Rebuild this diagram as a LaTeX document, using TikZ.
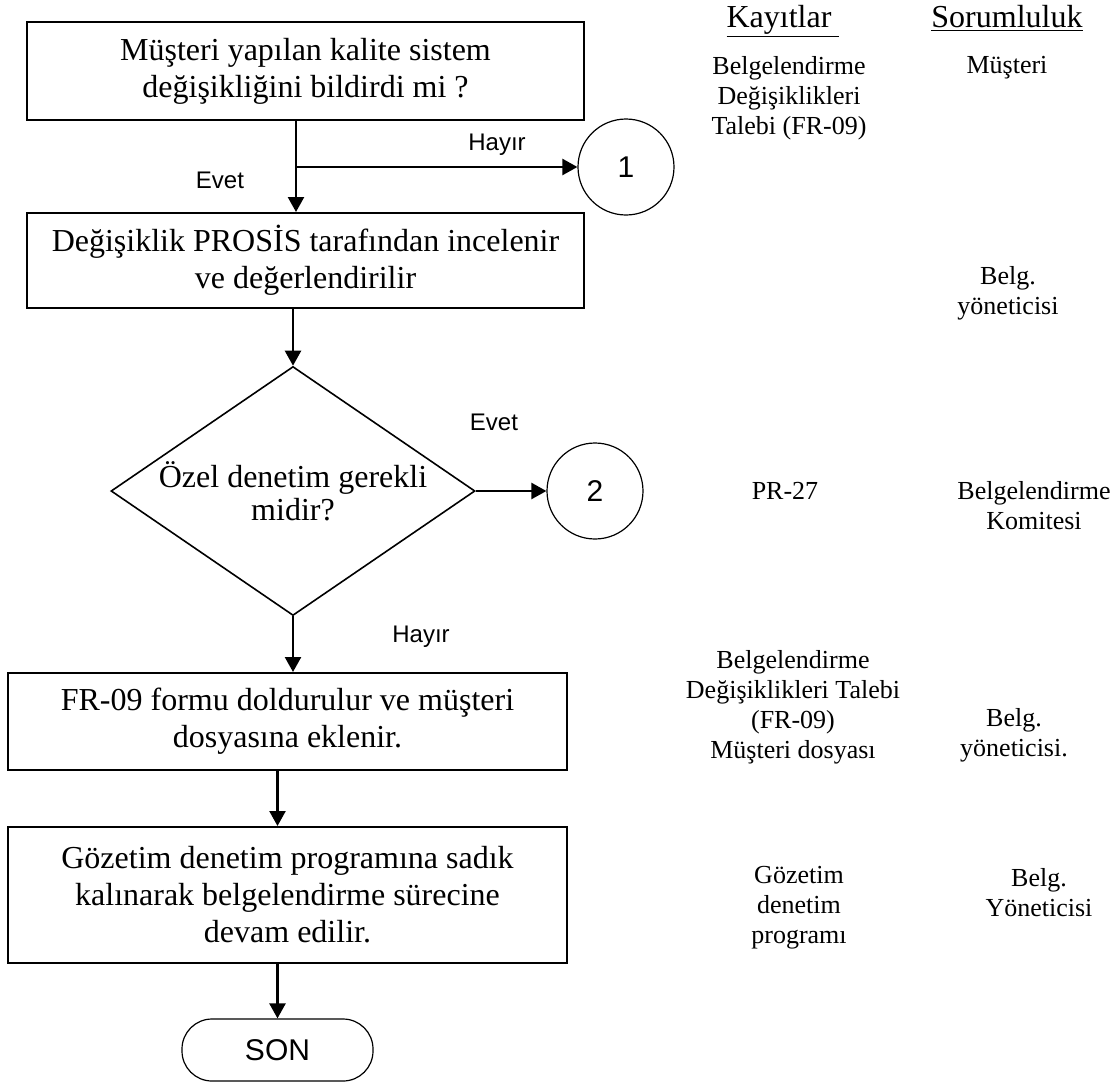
\documentclass[tikz,border=0pt]{standalone}
\usepackage{fontspec}
\setmainfont{Liberation Serif}
\setsansfont{Liberation Sans}
\usetikzlibrary{shapes.geometric,arrows.meta}

\begin{document}
\begin{tikzpicture}[x=0.5pt, y=-0.5pt,
  box/.style={draw, line width=1pt, minimum width=278.5pt, inner sep=0pt,
              align=center, font=\fontsize{16}{18.5}\selectfont},
  dec/.style={diamond, draw, line width=0.8pt, aspect=1.46, inner sep=0pt,
              minimum width=182pt, minimum height=124.5pt,
              align=center, font=\fontsize{16}{16.5}\selectfont},
  conn/.style={circle, draw, line width=0.6pt, minimum size=48pt, inner sep=0pt,
               font=\sffamily\fontsize{15}{18}\selectfont},
  term/.style={draw, line width=0.6pt, rounded corners=15pt, minimum width=95.5pt,
               minimum height=31pt, font=\sffamily\fontsize{15}{18}\selectfont},
  lbl/.style={font=\sffamily\fontsize{12}{14}\selectfont, inner sep=0pt},
  hdr/.style={anchor=base, inner sep=0pt, font=\fontsize{16}{18}\selectfont},
  rec/.style={align=center, inner sep=0pt, font=\fontsize{13}{15}\selectfont},
  arr/.style={->, line width=1.2pt, >={Triangle[length=7.5pt,width=8pt]}}
]
  \useasboundingbox (0,0) rectangle (1115,1083);

  % flow
  \node[box, minimum height=49pt] (q1) at (305.5,71) {Müşteri yapılan kalite sistem\\değişikliğini bildirdi mi ?};
  \node[box, minimum height=47.5pt] (rev) at (305.5,260.5) {Değişiklik PROSİS tarafından incelenir\\ve değerlendirilir};
  \node[dec] (q2) at (293,491) {Özel denetim gerekli\\midir?};
  \node[box, minimum width=279.5pt, minimum height=48.5pt] (form) at (287.5,721.5) {FR-09 formu doldurulur ve müşteri\\dosyasına eklenir.};
  \node[box, minimum width=279.5pt, minimum height=68pt] (cont) at (287.5,895) {Gözetim denetim programına sadık\\kalınarak belgelendirme sürecine\\devam edilir.};
  \node[term] (son) at (277.5,1050) {SON};
  \node[conn] (c1) at (626,167) {1};
  \node[conn] (c2) at (595,491) {2};
  \coordinate (split) at (296,167);

  \draw[arr] (q1.south -| split) -- (rev.north -| split);
  \draw[arr] (split) -- (c1);
  \draw[arr] (rev.south -| q2.north) -- (q2.north);
  \draw[arr] (q2.east) -- (c2.west);
  \draw[arr] (q2.south) -- (form.north -| q2.south);
  \draw[arr] (form.south -| son) -- (cont.north -| son);
  \draw[arr] (cont.south -| son) -- (son);

  \node[lbl] (no1) at (497,145) {Hayır};
  \node[lbl] (yes1) at (220,180) {Evet};
  \node[lbl] (yes2) at (494,422) {Evet};
  \node[lbl] (no2) at (421,637) {Hayır};

  % columns
  \node[hdr] (hrec) at (783,27) {\underline{Kayıtlar~}};
  \node[hdr] (hresp) at (1007,27) {\underline{Sorumluluk}};

  \node[rec] (r1) at (789,98) {Belgelendirme\\Değişiklikleri\\Talebi (FR-09)};
  \node[rec] (s1) at (1007,68) {Müşteri};
  \node[rec] (s2) at (1008,293) {Belg.\\yöneticisi};
  \node[rec] (r3) at (785,491) {PR-27};
  \node[rec] (s3) at (1034,506) {Belgelendirme\\Komitesi};
  \node[rec] (r4) at (793,707) {Belgelendirme\\Değişiklikleri Talebi\\(FR-09)\\Müşteri dosyası};
  \node[rec] (s4) at (1014,735) {Belg.\\yöneticisi.};
  \node[rec] (r5) at (799,908) {Gözetim\\denetim\\programı};
  \node[rec] (s5) at (1039,893) {Belg.\\Yöneticisi};
\end{tikzpicture}
\end{document}
